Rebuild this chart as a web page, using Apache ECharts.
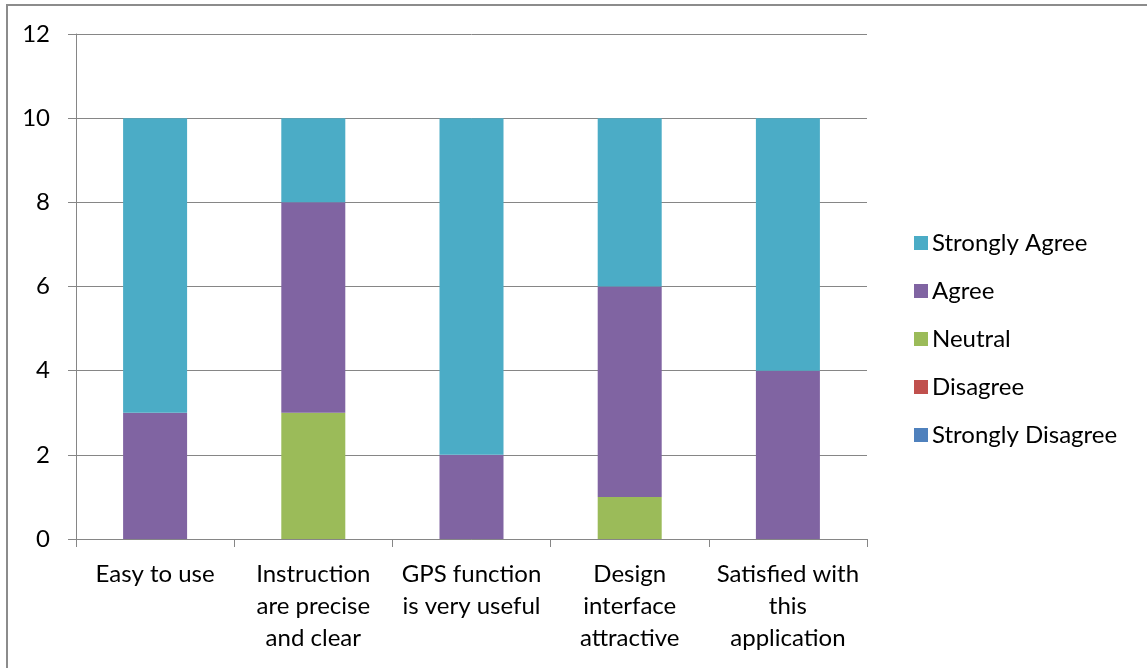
<!DOCTYPE html>
<html>
<head>
<meta charset="utf-8">
<script src="https://cdn.jsdelivr.net/npm/echarts@6/dist/echarts.min.js"></script>
<style>
  html, body { margin: 0; padding: 0; background: #fff; }
  #frame { position: absolute; left: 6px; top: 4px; width: 1160px; height: 700px;
           border-top: 2px solid #8c8c8c; border-left: 2px solid #8c8c8c; box-sizing: border-box; }
  #chart { position: absolute; left: 0; top: 0; width: 1147px; height: 668px; }
</style>
</head>
<body>
<div id="frame"></div>
<div id="chart"></div>
<script>
// Survey questions shown along the x axis
const categories = [
  'Easy to use',
  'Instruction\nare precise\nand clear',
  'GPS function\nis very useful',
  'Design\ninterface\nattractive',
  'Satisfied with\nthis\napplication'
];

// Number of responses per answer, one value per question
const stronglyDisagree = [0, 0, 0, 0, 0];
const disagree         = [0, 0, 0, 0, 0];
const neutral          = [0, 3, 0, 1, 0];
const agree            = [3, 5, 2, 5, 4];
const stronglyAgree    = [7, 2, 8, 4, 6];

const yTicks = { min: 0, max: 12, interval: 2 };

const axisGray = '#868686';
const font = 'Lato, "Open Sans", sans-serif';
const fontSize = 24;

const seriesDefs = [
  { name: 'Strongly Disagree', data: stronglyDisagree, color: '#4F81BD' },
  { name: 'Disagree',          data: disagree,         color: '#C0504D' },
  { name: 'Neutral',           data: neutral,          color: '#9BBB59' },
  { name: 'Agree',             data: agree,            color: '#8064A2' },
  { name: 'Strongly Agree',    data: stronglyAgree,    color: '#4BACC6' }
];

const chart = echarts.init(document.getElementById('chart'), null, { renderer: 'canvas' });

chart.setOption({
  animation: false,
  textStyle: { fontFamily: font },
  grid: { left: 76, right: 280, top: 34, bottom: 129, containLabel: false },
  legend: {
    orient: 'vertical',
    left: 909,
    top: 226,
    itemWidth: 14,
    itemHeight: 14,
    itemGap: 24,
    icon: 'rect',
    textStyle: { fontFamily: font, fontSize: fontSize, color: '#000', lineHeight: 24, padding: [0, 0, 0, -1] },
    data: seriesDefs.map(s => s.name).reverse()
  },
  xAxis: {
    type: 'category',
    data: categories,
    axisLine: { lineStyle: { color: axisGray, width: 1 } },
    axisTick: { show: true, length: 8, lineStyle: { color: axisGray } },
    axisLabel: { color: '#000', fontSize: fontSize, lineHeight: 32, margin: 19, interval: 0 }
  },
  yAxis: {
    type: 'value',
    min: yTicks.min,
    max: yTicks.max,
    interval: yTicks.interval,
    axisLine: { show: true, lineStyle: { color: axisGray, width: 1 } },
    axisTick: { show: true, length: 8, lineStyle: { color: axisGray } },
    splitLine: { show: true, lineStyle: { color: axisGray, width: 1 } },
    axisLabel: { color: '#000', fontSize: fontSize, margin: 26 }
  },
  series: seriesDefs.map(s => ({
    name: s.name,
    type: 'bar',
    stack: 'total',
    barWidth: 64,
    data: s.data,
    itemStyle: { color: s.color }
  }))
});
</script>
</body>
</html>
